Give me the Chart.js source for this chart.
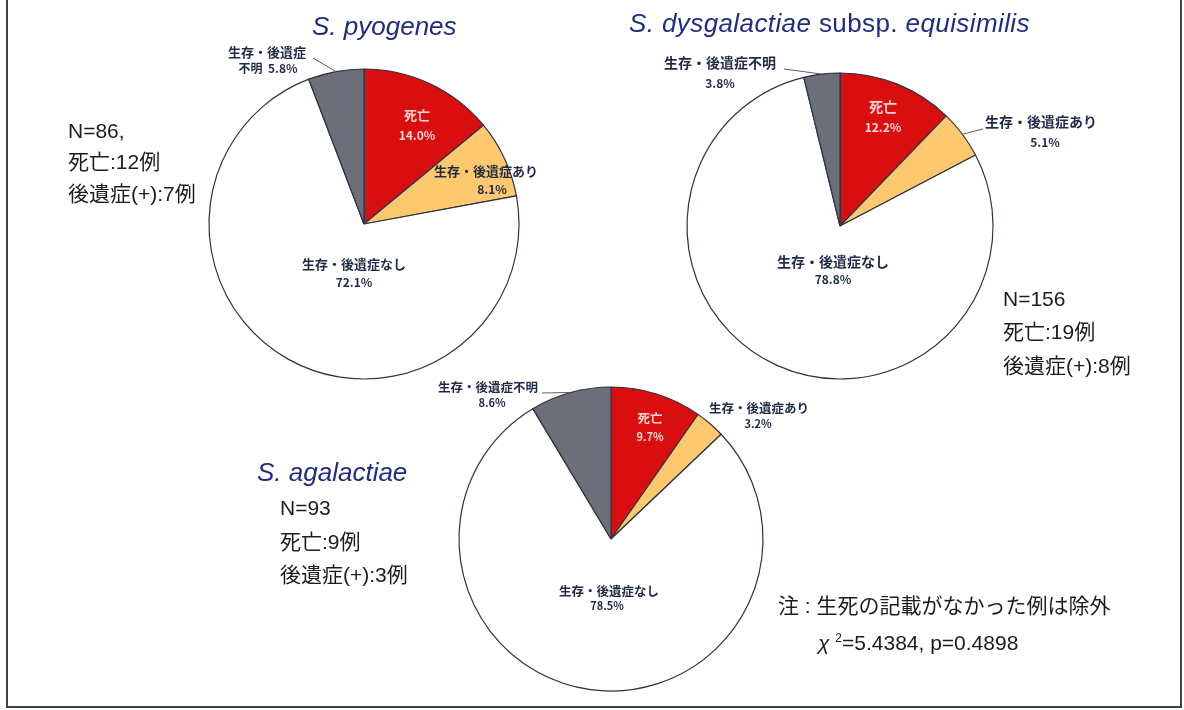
<!DOCTYPE html>
<html lang="ja">
<head>
<meta charset="UTF-8">
<title>転帰 - 菌種別</title>
<script src="https://cdn.jsdelivr.net/npm/chart.js"></script>
<style>
    html, body { margin: 0; padding: 0; background: #fff; }
    #page {
        position: relative; width: 1184px; height: 710px; overflow: hidden;
        font-family: "Liberation Sans", "Noto Sans CJK JP", sans-serif;
    }
    #frame {
        position: absolute; left: 6px; top: -4px; width: 1176px; height: 712px;
        border: 2px solid #3c4444; box-sizing: border-box;
    }
    canvas { position: absolute; left: 0; top: 0; }
    .title {
        position: absolute; font-size: 26px; line-height: 26px; color: #1f2c82;
        white-space: nowrap;
    }
    .title i { font-style: italic; }
    .info {
        position: absolute; font-size: 21px; line-height: 21px; color: #1c1c1c;
        white-space: nowrap;
    }
</style>
</head>
<body>
<div id="page">
    <div id="frame"></div>
    <canvas id="pie_pyogenes" width="1184" height="710"></canvas>
    <canvas id="pie_dysgalactiae" width="1184" height="710"></canvas>
    <canvas id="pie_agalactiae" width="1184" height="710"></canvas>

    <div class="title" style="left:312px; top:13px;"><i>S. pyogenes</i></div>
    <div class="title" style="left:629px; top:10px; letter-spacing:0.4px;"><i>S. dysgalactiae</i> subsp. <i>equisimilis</i></div>
    <div class="title" style="left:257px; top:459px;"><i>S. agalactiae</i></div>

    <div class="info" style="left:68px; top:120px;">N=86,</div>
    <div class="info" style="left:68px; top:151px;">死亡:12例</div>
    <div class="info" style="left:68px; top:183px;">後遺症(+):7例</div>

    <div class="info" style="left:1003px; top:288px;">N=156</div>
    <div class="info" style="left:1003px; top:321px;">死亡:19例</div>
    <div class="info" style="left:1003px; top:355px;">後遺症(+):8例</div>

    <div class="info" style="left:280px; top:497px;">N=93</div>
    <div class="info" style="left:280px; top:531px;">死亡:9例</div>
    <div class="info" style="left:280px; top:564px;">後遺症(+):3例</div>

    <div class="info" style="left:778px; top:595px;">注 : 生死の記載がなかった例は除外</div>
    <div class="info" style="left:818px; top:628px;"><i>χ</i> <sup style="font-size:12px;">2</sup>=5.4384, p=0.4898</div>
</div>

<script>
    // outcome categories, clockwise from 12 o'clock
    const categories = ['死亡', '生存・後遺症あり', '生存・後遺症なし', '生存・後遺症不明'];

    // percentages per species
    const pyogenesPct = [14.0, 8.1, 72.1, 5.8];
    const dysgalactiaePct = [12.2, 5.1, 78.8, 3.8];
    const agalactiaePct = [9.7, 3.2, 78.5, 8.6];

    const sliceColors = ['#d90f0f', '#fec86e', '#ffffff', '#6c6f79'];
    const labelColors = ['#ffd4d4', '#1f2a45', '#1f2a45', '#1f2a45'];

    // draws the category / percent labels next to each slice
    const sliceLabels = {
        id: 'sliceLabels',
        afterDatasetsDraw(chart, args, opts) {
            const ctx = chart.ctx;
            const arcs = chart.getDatasetMeta(0).data;
            const values = chart.data.datasets[0].data;
            ctx.save();
            arcs.forEach(function(arc, i) {
                const spec = opts.layout[i];
                const p = arc.getProps(['x', 'y', 'startAngle', 'endAngle', 'outerRadius'], true);
                const pct = values[i].toFixed(1) + '%';
                let lines = [categories[i], pct];
                if (spec.split) {
                    lines = [categories[i].slice(0, -2), categories[i].slice(-2) + '  ' + pct];
                }

                if (spec.leader) {
                    const mid = (p.startAngle + p.endAngle) / 2;
                    ctx.beginPath();
                    ctx.moveTo(p.x + Math.cos(mid) * p.outerRadius, p.y + Math.sin(mid) * p.outerRadius);
                    ctx.lineTo(p.x + spec.leader[0], p.y + spec.leader[1]);
                    ctx.strokeStyle = '#5a5f66';
                    ctx.lineWidth = 1;
                    ctx.stroke();
                }

                ctx.fillStyle = labelColors[i];
                ctx.textAlign = 'center';
                ctx.textBaseline = 'middle';
                ctx.font = 'bold ' + opts.size + 'px "Noto Sans CJK JP"';
                ctx.fillText(lines[0], p.x + spec.l1[0], p.y + spec.l1[1]);
                ctx.font = 'bold ' + opts.pctSize + 'px "Noto Sans CJK JP"';
                ctx.fillText(lines[1], p.x + spec.l2[0], p.y + spec.l2[1]);
            });
            ctx.restore();
        }
    };

    // one pie per canvas, placed by padding the chart area around the circle
    function drawPie(id, values, cx, cy, r, layout, size, pctSize) {
        const bw = 1.2;
        new Chart(document.getElementById(id), {
            type: 'pie',
            data: {
                labels: categories,
                datasets: [{
                    data: values,
                    backgroundColor: sliceColors,
                    borderColor: '#2a3447',
                    borderWidth: bw,
                    borderAlign: 'center'
                }]
            },
            options: {
                responsive: false,
                animation: false,
                events: [],
                layout: {
                    padding: {
                        left: cx - r - bw / 2,
                        top: cy - r - bw / 2,
                        right: 1184 - (cx + r + bw / 2),
                        bottom: 710 - (cy + r + bw / 2)
                    }
                },
                plugins: {
                    legend: { display: false },
                    tooltip: { enabled: false },
                    sliceLabels: { layout: layout, size: size, pctSize: pctSize }
                }
            },
            plugins: [sliceLabels]
        });
    }

    drawPie('pie_pyogenes', pyogenesPct, 364, 224, 155, [
        { l1: [53, -109], l2: [53, -89] },
        { l1: [122, -53], l2: [128, -35] },
        { l1: [-10, 40], l2: [-10, 58] },
        { l1: [-97, -172], l2: [-96, -156], split: true, leader: [-51, -166] }
    ], 13, 12);

    drawPie('pie_dysgalactiae', dysgalactiaePct, 840, 226, 153, [
        { l1: [43, -119], l2: [43, -99] },
        { l1: [201, -104], l2: [205, -84], leader: [143, -97] },
        { l1: [-7, 36], l2: [-7, 53] },
        { l1: [-120, -163], l2: [-120, -143], leader: [-56, -157] }
    ], 14, 12);

    drawPie('pie_agalactiae', agalactiaePct, 611, 539, 152, [
        { l1: [39, -121], l2: [39, -102] },
        { l1: [148, -131], l2: [147, -115] },
        { l1: [-2, 52], l2: [-4, 67] },
        { l1: [-123, -152], l2: [-119, -136], leader: [-69, -146] }
    ], 12.5, 11);
</script>
</body>
</html>
